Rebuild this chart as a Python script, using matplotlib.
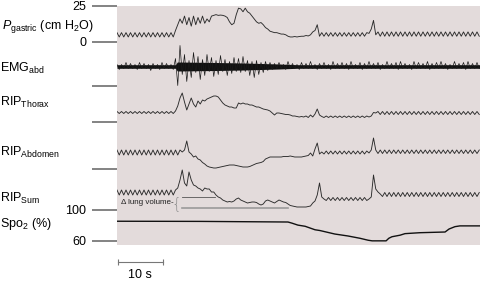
import matplotlib
matplotlib.use("Agg")
import matplotlib.pyplot as plt
import numpy as np

plt.rcParams['font.family'] = ['Liberation Sans', 'DejaVu Sans']
plt.rcParams['mathtext.fontset'] = 'custom'
plt.rcParams['mathtext.rm'] = 'Liberation Sans'
plt.rcParams['mathtext.it'] = 'Liberation Sans:italic'
plt.rcParams['mathtext.bf'] = 'Liberation Sans:bold'

dt = 0.5

# gastric pressure, cm H2O
p_gastric = [
    6.5, 3.5, 6.5, 3.5, 6.5, 3.5, 6.5, 3.5, 6.5, 3.5,
    6.5, 3.5, 6.5, 3.5, 6.5, 3.5, 6.5, 3.5, 6.5, 3.5,
    6.5, 3.5, 6.5, 3.5, 6.5, 3.5, 8, 12, 16, 13,
    18, 12, 17, 11, 18, 12, 17, 13, 18, 13,
    16, 14, 18, 18.5, 19, 18.5, 18.7, 18.5, 18, 17,
    14, 12, 13, 19, 23.5, 23, 21, 23.5, 21, 20,
    18, 16, 14, 13, 13.5, 12, 10, 9, 7.5, 7,
    6.5, 6.5, 6, 5.5, 5.5, 5, 4, 3.5, 3.5, 3.8,
    3.5, 3.8, 4, 4, 4.5, 4.2, 5, 7, 8, 12,
    4, 6.5, 4, 6.5, 4, 6.5, 4, 6.5, 4, 6.5,
    4, 6.5, 4, 6.5, 4, 6.5, 4, 6.5, 4, 6.5,
    4, 6.5, 6, 9, 15, 5, 7, 4, 7, 4,
    7, 4, 7, 4, 7, 4, 7, 4, 7, 4,
    7, 4, 7, 4, 7, 4, 7, 4, 7, 4,
    7, 4, 7, 4, 7, 4, 7, 4, 7, 4,
    7, 4, 7, 4, 7, 4, 7, 4, 7, 4,
    7, 4,
]

# abdominal EMG spikes, a.u.
emg_abd = [
    2, -3, 2, -2, 4, -2, 3, -2, 2, -3,
    4, -2, 3, -2, 2, -4, 3, -2, 2, -3,
    4, -2, 3, -2, 2, -3, 8, -19, 21, -8,
    12, -15, 6, -11, 14, -6, 10, -13, 7, -9,
    12, -5, 9, -10, 6, -8, 11, -5, 7, -9,
    5, -7, 9, -5, 8, -6, 10, -5, 6, -9,
    5, -11, 6, -8, 4, -6, 5, -4, 4, -3,
    3, -2, 4, -2, 2, -3, 5, -2, 3, -2,
    2, -3, 4, -2, 3, -2, 5, -2, 2, -3,
    3, -2, 4, -2, 2, -3, 5, -2, 3, -2,
    4, -2, 3, -3, 5, -2, 2, -2, 4, -3,
    3, -2, 5, -2, 3, -2, 4, -3, 2, -2,
    5, -2, 3, -2, 4, -3, 5, -2, 3, -2,
    2, -3, 5, -2, 4, -2, 3, -2, 5, -3,
    3, -2, 4, -2, 5, -2, 3, -3, 2, -2,
    5, -2, 3, -2, 4, -3, 5, -2, 3, -2,
    4, -2,
]
# dense EMG core half-width, a.u. (breakpoints)
emg_core_t = [0, 13.0, 13.4, 22.0, 28.0, 32.0, 36.0, 40.0, 80.9]
emg_core = [1.8, 1.8, 4.5, 4, 3.5, 3, 2.5, 1.8, 1.8]

# respiratory inductance plethysmography, a.u.
rip_thorax = [
    10.5, 8.5, 10.5, 8.5, 10.5, 8.5, 10.5, 8.5, 10.5, 8.5,
    10.5, 8.5, 10.5, 8.5, 10.5, 8.5, 10.5, 8.5, 10.5, 8.5,
    10.5, 8.5, 10.5, 8.5, 10.5, 8.5, 11, 16, 24, 29,
    20, 12, 18, 24, 18, 15, 21, 18, 22, 21,
    23, 24, 25, 26, 26, 25, 22, 19, 17, 16,
    15, 15, 14, 14, 19, 18, 19, 18, 18, 17,
    17, 16, 15, 15, 14, 13, 12.5, 12, 11, 9,
    7, 9, 9, 8.5, 8, 7.5, 7.5, 7, 6, 6,
    5.5, 5, 5.5, 5, 6, 4.5, 7, 5, 8, 13,
    7, 5.5, 4.5, 6, 4.5, 6, 4.5, 6, 4.5, 6,
    4.5, 6, 4.5, 6, 4.5, 6, 4.5, 6, 4.5, 6,
    4.5, 6, 5, 6, 9.5, 9, 10.5, 7.5, 10.5, 7.5,
    10.5, 7.5, 10.5, 7.5, 10.5, 7.5, 10.5, 7.5, 10.5, 7.5,
    10.5, 7.5, 10.5, 7.5, 10.5, 7.5, 10.5, 7.5, 10.5, 7.5,
    10.5, 7.5, 10.5, 7.5, 10.5, 7.5, 10.5, 7.5, 10.5, 7.5,
    10.5, 7.5, 10.5, 7.5, 10.5, 7.5, 10.5, 7.5, 10.5, 7.5,
    10.5, 7.5,
]

rip_abdomen = [
    19, 14, 19, 14, 19, 14, 19, 14, 19, 14,
    19, 14, 19, 14, 19, 14, 19, 14, 19, 14,
    19, 14, 19, 14, 19, 14, 19, 14, 19, 17,
    19, 28, 17, 15, 12, 13, 10, 9, 6.5, 5,
    3, 2, 1.5, 1, 1, 1.5, 2, 2.5, 3, 3.5,
    4, 4, 4, 3.5, 3, 2.5, 2, 2, 2, 2.5,
    3.5, 4.5, 5.5, 6, 6.5, 7.5, 10, 11, 12, 12,
    12, 12, 12, 12, 12.5, 12.5, 12.5, 13, 12.5, 12,
    12, 12, 12, 12.5, 13, 13.5, 16, 13, 20, 26,
    15, 17, 15, 18, 15, 18, 15, 18, 15, 18,
    15, 18, 15, 18, 15, 18, 15, 18, 15, 18,
    15, 18, 16, 19, 31, 19, 15.5, 19, 15.5, 19,
    15.5, 19, 15.5, 19, 15.5, 19, 15.5, 19, 15.5, 19,
    15.5, 19, 15.5, 19, 15.5, 19, 15.5, 19, 15.5, 19,
    15.5, 19, 15.5, 19, 15.5, 19, 15.5, 19, 15.5, 19,
    15.5, 19, 15.5, 19, 15.5, 19, 15.5, 19, 15.5, 19,
    15.5, 19,
]

rip_sum = [
    20, 15, 20, 15, 20, 15, 20, 15, 20, 15,
    20, 15, 20, 15, 20, 15, 20, 15, 20, 15,
    20, 15, 20, 15, 20, 15, 20, 22, 30, 40,
    27, 24, 38, 30, 25, 24, 22, 21, 19, 22,
    21, 21, 18, 18, 15, 13, 12, 10, 9, 8,
    8.5, 8, 9, 11, 12, 10, 9, 8, 7, 7.5,
    8, 8, 7.5, 6, 5, 6, 9, 10, 9, 8,
    7, 8.5, 10, 9, 8, 7.5, 6, 4.5, 4, 3.5,
    3, 3, 3, 3, 3, 3.5, 4, 7, 9, 15,
    27, 13, 11, 9.5, 12.5, 9.5, 12.5, 9.5, 12.5, 9.5,
    12.5, 9.5, 12.5, 9.5, 12.5, 9.5, 12.5, 9.5, 12.5, 9.5,
    12.5, 9.5, 11, 13, 35, 21, 18, 16, 13.5, 17.5,
    13.5, 17.5, 13.5, 17.5, 13.5, 17.5, 13.5, 17.5, 13.5, 17.5,
    13.5, 17.5, 13.5, 17.5, 13.5, 17.5, 13.5, 17.5, 13.5, 17.5,
    13.5, 17.5, 13.5, 17.5, 13.5, 17.5, 13.5, 17.5, 13.5, 17.5,
    13.5, 17.5, 13.5, 17.5, 13.5, 17.5, 13.5, 17.5, 13.5, 17.5,
    13.5, 17.5,
]

# oxygen saturation, % (breakpoints)
spo2_t = [0, 18.4, 38.0, 38.9, 40.2, 41.8, 44.0, 45.1, 48.4, 51.3, 54.0, 55.8,
          56.7, 59.8, 60.4, 61.1, 62.9, 64.0, 67.3, 72.9, 73.8, 75.1, 76.2, 80.9]
spo2 = [85.5, 85.3, 84.5, 83, 80.5, 79, 74.5, 73.5, 69, 66.5, 63.5, 61,
        60.2, 60.2, 63.5, 65.5, 67.5, 69.5, 70.7, 71.6, 75.5, 78.5, 79.5, 79.5]

# delta lung volume marker (RIP_Sum units)
dlv_start = 14.4
dlv_end = [21.8, 38.0]
dlv_level = [13, 1.5]

# ------ layout ------
W, H = 481, 283
px_per_s = 4.5
fig = plt.figure(figsize=(W / 100, H / 100), dpi=100)
ax = fig.add_axes([117 / W, 1 - 245 / H, 364 / W, 239 / H])
ax.set_facecolor('#e3dbdb')
ax.set_xlim(0, 364 / px_per_s)
ax.set_ylim(245, 6)  # rows, top to bottom


def row_pg(v):
    return 42 - 1.44 * np.asarray(v, dtype=float)


def row_spo2(v):
    return 210 + 0.775 * (100 - np.asarray(v, dtype=float))


t = np.arange(len(p_gastric)) * dt
trace_kw = dict(color='#2b2b2b', lw=0.65)

ax.plot(t, row_pg(p_gastric), **trace_kw)

# EMG: dense core + spikes
emg_mid = 66.5
core = np.array(emg_core)
ax.fill_between(emg_core_t, emg_mid - core, emg_mid + core, color='#111111', lw=0)
ax.plot(t, emg_mid - np.array(emg_abd), color='#1a1a1a', lw=0.5)

ax.plot(t, 122 - np.array(rip_thorax), **trace_kw)
ax.plot(t, 169 - np.array(rip_abdomen), **trace_kw)
ax.plot(t, 210 - np.array(rip_sum), **trace_kw)
ax.plot(spo2_t, row_spo2(spo2), color='#111111', lw=1.0)

# delta lung volume lines
ax.plot([dlv_start, dlv_end[0]], [210 - dlv_level[0]] * 2, color='#555555', lw=0.6)
ax.plot([dlv_start, dlv_end[1]], [210 - dlv_level[1]] * 2, color='#9a9a9a', lw=1.2)
ax.text(dlv_start - 0.2, 210 - np.mean(dlv_level) + 0.5, '{', fontsize=11,
        color='#8a8a8a', ha='right', va='center', family='DejaVu Sans',
        fontweight='light')
ax.text(dlv_start - 1.9, 210 - np.mean(dlv_level), '\u0394 lung volume-',
        fontsize=5.8, color='#222222', ha='right', va='center')

# left ticks
ticks = [row_pg(25), row_pg(0), 86, 122, 169, row_spo2(100), row_spo2(60)]
ax.set_yticks(ticks)
ax.set_yticklabels(['25', '0', '', '', '', '100', '60'], fontsize=9)
ax.tick_params(axis='y', length=18, width=1.2, color='#6e6e6e', pad=4)
ax.set_xticks([])
for s in ax.spines.values():
    s.set_visible(False)

# 10 s scale bar
ax.plot([0.2, 10.2], [262, 262], color='#777777', lw=0.8, clip_on=False,
        marker='|', markersize=4, markeredgewidth=0.8)
ax.text(5.2, 278, '10 s', fontsize=9, ha='center', va='baseline', clip_on=False)

# trace labels
labels = [
    (r'$\mathit{P}_{\mathregular{gastric}}$ (cm H$_2$O)', 2, 29),
    (r'EMG$_{\mathregular{abd}}$', 0, 72),
    (r'RIP$_{\mathregular{Thorax}}$', 0, 106),
    (r'RIP$_{\mathregular{Abdomen}}$', 0, 156),
    (r'RIP$_{\mathregular{Sum}}$', 0, 202),
    (r'Spo$_2$ (%)', 0, 227),
]
for s, x, y in labels:
    fig.text(x / W, 1 - y / H, s, fontsize=9, va='baseline', ha='left')

fig.savefig('out.png', dpi=100)
